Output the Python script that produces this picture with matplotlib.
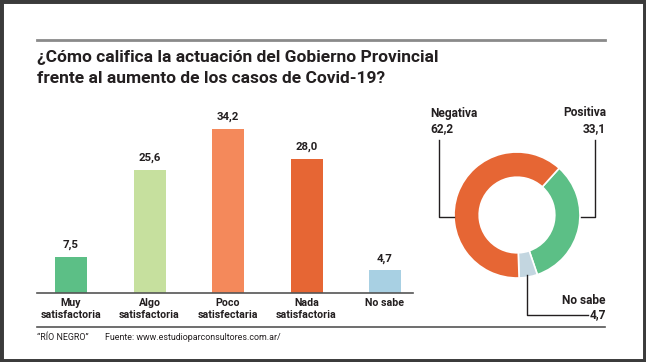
import matplotlib
matplotlib.use("Agg")
import matplotlib.pyplot as plt
from matplotlib.lines import Line2D
from matplotlib.patches import Rectangle

W, H = 646, 362

# ---- data ----
bar_categories = ["Muy\nsatisfactoria", "Algo\nsatisfactoria", "Poco\nsatisfectaria",
                  "Nada\nsatisfactoria", "No sabe"]
bar_values = [7.5, 25.6, 34.2, 28.0, 4.7]
bar_labels = ["7,5", "25,6", "34,2", "28,0", "4,7"]
bar_colors = ["#5cbf86", "#c6e09e", "#f4895b", "#e66634", "#a8d0e3"]

donut_categories = ["Positiva", "No sabe", "Negativa"]
donut_values = [33.1, 4.7, 62.2]
donut_labels = ["33,1", "4,7", "62,2"]
donut_colors = ["#5cbf86", "#c3d6e0", "#e66634"]

title = "¿Cómo califica la actuación del Gobierno Provincial\nfrente al aumento de los casos de Covid-19?"
footer_left = "\u201cRÍO NEGRO\u201d"
footer_right = "Fuente: www.estudioparconsultores.com.ar/"

FONT = ["Roboto", "DejaVu Sans"]
plt.rcParams["font.family"] = FONT
TXT = "#231f20"

fig = plt.figure(figsize=(W / 100, H / 100), dpi=100)
fig.patch.set_facecolor("white")


def fx(x):
    return x / W


def fy(y):
    return 1 - y / H


# frame
fig.add_artist(Rectangle((0, 0), 1, 1, transform=fig.transFigure, fill=False,
                         edgecolor="#3b3b3b", linewidth=5, zorder=10))

# top rule
fig.add_artist(Line2D([fx(37), fx(605)], [fy(40), fy(40)], color="#8a8a8a", linewidth=2.0))
# bottom rule
fig.add_artist(Line2D([fx(37), fx(605)], [fy(327), fy(327)], color="#555555", linewidth=1.2))

# title
fig.text(fx(37), fy(68), title, fontsize=12.5, fontweight="bold", color=TXT,
         ha="left", va="center", linespacing=1.45)

# footer
fig.text(fx(37), fy(338), footer_left, fontsize=6.4, color=TXT, ha="left", va="center")
fig.text(fx(105), fy(338), footer_right, fontsize=6.4, color=TXT, ha="left", va="center")

# ---- bar chart ----
scale = 4.8  # px per unit
ax_left, ax_right, ax_base, ax_top = 37, 413, 293, 100
ax = fig.add_axes([fx(ax_left), fy(ax_base), (ax_right - ax_left) / W, (ax_base - ax_top) / H])
spacing = 78.5
x0 = 71
ax.set_xlim(-(x0 - ax_left) / spacing, (ax_right - x0) / spacing)
ax.set_ylim(0, (ax_base - ax_top) / scale)
xs = list(range(len(bar_values)))
ax.bar(xs, bar_values, width=32 / spacing, color=bar_colors, linewidth=0)
for x, v, lab in zip(xs, bar_values, bar_labels):
    ax.text(x, v + 12 / scale, lab, ha="center", va="center", fontsize=8.2,
            fontweight="bold", color=TXT)
ax.set_xticks(xs)
ax.set_xticklabels(bar_categories, fontsize=7.7, fontweight="bold", color=TXT,
                   linespacing=1.25, va="top")
ax.tick_params(axis="x", length=0, pad=3.5)
ax.set_yticks([])
for s in ["top", "left", "right"]:
    ax.spines[s].set_visible(False)
ax.spines["bottom"].set_color("#555555")
ax.spines["bottom"].set_linewidth(1.2)
ax.patch.set_alpha(0)

# ---- donut ----
cx, cy, r = 517, 215, 63
dax = fig.add_axes([fx(cx - r), fy(cy + r), 2 * r / W, 2 * r / H])
dax.pie(donut_values, colors=donut_colors, startangle=48, counterclock=False,
        radius=1.0, wedgeprops=dict(width=0.4, edgecolor="white", linewidth=1.2))
dax.set_xlim(-1, 1)
dax.set_ylim(-1, 1)
dax.set_aspect("equal")
dax.axis("off")

lc = "#231f20"
lw = 1.0
# Negativa leader
fig.add_artist(Line2D([fx(439), fx(439), fx(454)], [fy(140), fy(217), fy(217)], color=lc, linewidth=lw))
# Positiva leader
fig.add_artist(Line2D([fx(595), fx(595), fx(581)], [fy(140), fy(217), fy(217)], color=lc, linewidth=lw))
# No sabe leader
fig.add_artist(Line2D([fx(527), fx(527), fx(588)], [fy(275), fy(315), fy(315)], color=lc, linewidth=lw))

neg_i = donut_categories.index("Negativa")
pos_i = donut_categories.index("Positiva")
ns_i = donut_categories.index("No sabe")
DS = 8.6
fig.text(fx(430), fy(113), donut_categories[neg_i], fontsize=DS, fontweight="bold", color=TXT, ha="left", va="center")
fig.text(fx(430), fy(129), donut_labels[neg_i], fontsize=DS, fontweight="bold", color=TXT, ha="left", va="center")
fig.text(fx(606), fy(113), donut_categories[pos_i], fontsize=DS, fontweight="bold", color=TXT, ha="right", va="center")
fig.text(fx(606), fy(129), donut_labels[pos_i], fontsize=DS, fontweight="bold", color=TXT, ha="right", va="center")
fig.text(fx(606), fy(301), donut_categories[ns_i], fontsize=DS, fontweight="bold", color=TXT, ha="right", va="center")
fig.text(fx(606), fy(315), donut_labels[ns_i], fontsize=DS, fontweight="bold", color=TXT, ha="right", va="center")

fig.savefig("out.png", dpi=100, facecolor="white")
